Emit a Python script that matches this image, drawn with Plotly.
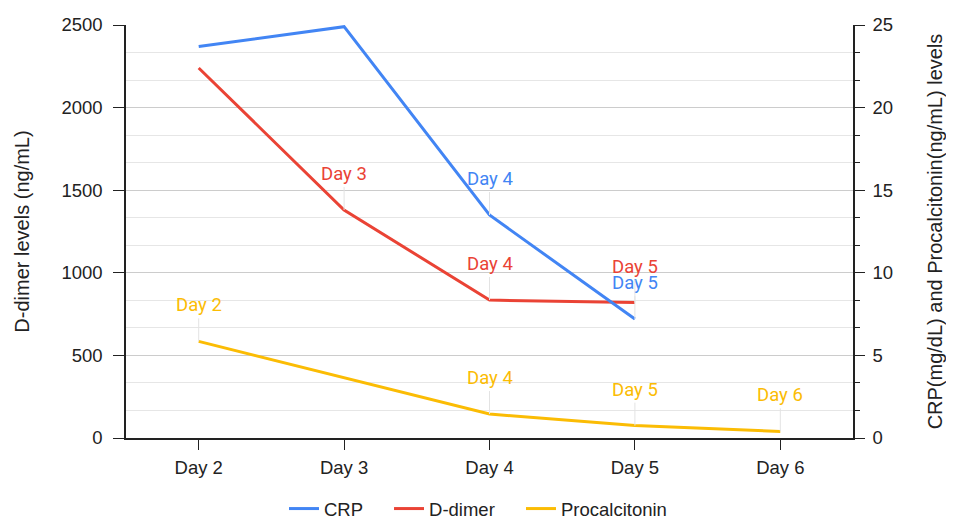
import plotly.graph_objects as go

days = ["Day 2", "Day 3", "Day 4", "Day 5", "Day 6"]
crp = [23.7, 24.9, 13.5, 7.2, None]
ddimer = [2240, 1380, 835, 820, None]
procalcitonin = [5.85, 3.65, 1.45, 0.75, 0.4]

crp_labeled = ["Day 4", "Day 5"]
ddimer_labeled = ["Day 3", "Day 4", "Day 5"]
pct_labeled = ["Day 2", "Day 4", "Day 5", "Day 6"]

BLUE = "#4285F4"
RED = "#EA4335"
YELLOW = "#FBBC04"
INK = "#222222"
FS = 18.5
TFS = 20

fig = go.Figure()
fig.add_trace(go.Scatter(x=days, y=crp, name="CRP", mode="lines",
                         line=dict(color=BLUE, width=3), yaxis="y2", legend="legend"))
fig.add_trace(go.Scatter(x=days, y=ddimer, name="D-dimer", mode="lines",
                         line=dict(color=RED, width=3), yaxis="y", legend="legend2"))
fig.add_trace(go.Scatter(x=days, y=procalcitonin, name="Procalcitonin", mode="lines",
                         line=dict(color=YELLOW, width=3), yaxis="y2", legend="legend3"))

annotations = []
def add_labels(vals, labeled, color, yref):
    for d, v in zip(days, vals):
        if v is None or d not in labeled:
            continue
        annotations.append(dict(
            x=d, y=v, xref="x", yref=yref, text=d, showarrow=True,
            arrowhead=0, arrowwidth=1, arrowcolor="#e3e3e3",
            ax=0, ay=-23, yanchor="bottom",
            font=dict(family="Roboto", size=FS, color=color)))

add_labels(crp, crp_labeled, BLUE, "y2")
add_labels(ddimer, ddimer_labeled, RED, "y")
add_labels(procalcitonin, pct_labeled, YELLOW, "y2")

def leg(x):
    return dict(orientation="h", x=x, xanchor="left", y=-0.172, yanchor="middle",
                font=dict(size=FS, color=INK), itemwidth=30, bgcolor="rgba(0,0,0,0)")

fig.update_layout(
    width=946, height=511,
    margin=dict(l=118, r=101, t=17, b=81, autoexpand=False),
    paper_bgcolor="white", plot_bgcolor="white",
    font=dict(family="Liberation Sans, Arial", size=FS, color=INK),
    showlegend=True,
    legend=leg(0.2173), legend2=leg(0.3618), legend3=leg(0.5433),
    annotations=annotations,
    xaxis=dict(
        type="category", range=[-0.5, 4.5], automargin=False,
        showline=True, linecolor=INK, linewidth=1.5,
        ticks="outside", ticklen=10, tickcolor=INK,
        showgrid=False, zeroline=False,
        tickfont=dict(size=FS, color=INK), ticklabelstandoff=2,
    ),
    yaxis=dict(
        range=[0, 2500], dtick=500, tick0=0, automargin=False,
        showline=True, linecolor=INK, linewidth=1.5,
        ticks="outside", ticklen=11, tickcolor=INK,
        showgrid=True, gridcolor="#cccccc", gridwidth=1,
        zeroline=False, ticklabelstandoff=7,
        minor=dict(dtick=500/3, showgrid=True, gridcolor="#e6e6e6", gridwidth=1),
        title=dict(text="D-dimer levels (ng/mL)", font=dict(size=TFS, color=INK), standoff=26),
        tickfont=dict(size=FS, color=INK),
    ),
    yaxis2=dict(
        range=[0, 25], dtick=5, tick0=0, overlaying="y", side="right", automargin=False,
        showline=True, linecolor=INK, linewidth=1.5,
        ticks="outside", ticklen=10, tickcolor=INK,
        showgrid=False, zeroline=False, ticklabelstandoff=4,
        minor=dict(dtick=5/3, ticks="outside", ticklen=5, tickcolor=INK, showgrid=False),
        title=dict(text="CRP(mg/dL) and Procalcitonin(ng/mL) levels",
                   font=dict(size=TFS, color=INK), standoff=36),
        tickfont=dict(size=FS, color=INK),
    ),
)

fig.write_html("out.html")
